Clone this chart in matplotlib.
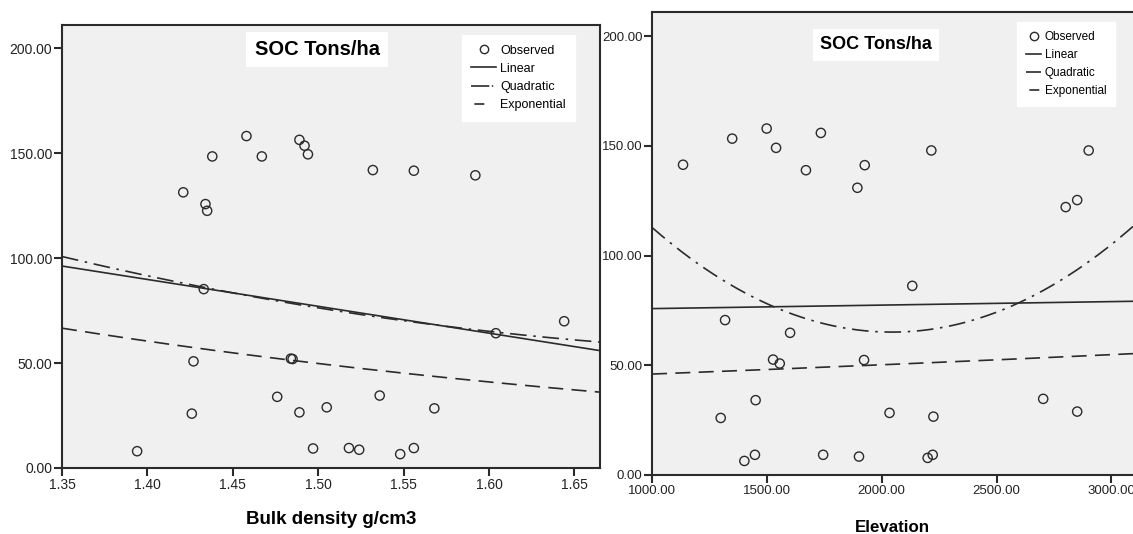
import numpy as np
import matplotlib.pyplot as plt
from matplotlib.lines import Line2D

plt.rcParams['font.family'] = ['Liberation Sans', 'DejaVu Sans']

# observed SOC stock (tons/ha) against bulk density (g/cm3)
bulk_density = [1.421, 1.434, 1.435, 1.438, 1.458, 1.467, 1.489, 1.492, 1.494, 1.532,
                1.556, 1.592, 1.433, 1.644, 1.604, 1.427, 1.484, 1.485, 1.426, 1.394,
                1.476, 1.489, 1.505, 1.497, 1.518, 1.524, 1.536, 1.548, 1.556, 1.568]
soc_bd = [131.3, 125.7, 122.5, 148.4, 158.1, 148.4, 156.3, 153.5, 149.4, 141.9,
          141.6, 139.4, 85.2, 69.9, 64.2, 50.8, 52.1, 51.9, 25.9, 8.0,
          33.9, 26.5, 28.9, 9.3, 9.5, 8.7, 34.5, 6.6, 9.5, 28.4]

# observed SOC stock (tons/ha) against elevation (m)
elevation = [1135, 1349, 1499, 1540, 1735, 1670, 1926, 1894, 2216, 2901,
             2801, 2851, 2133, 1318, 1601, 1527, 1556, 1923, 1451, 1299,
             2034, 2225, 2703, 2851, 1402, 1448, 1745, 1901, 2200, 2222]
soc_elev = [141.4, 153.3, 157.9, 149.1, 155.9, 138.9, 141.2, 130.9, 147.9, 147.9,
            122.1, 125.3, 86.2, 70.6, 64.8, 52.6, 50.8, 52.4, 34.1, 26.0,
            28.3, 26.6, 34.7, 28.9, 6.4, 9.2, 9.2, 8.4, 7.8, 9.2]

bd_ticks = [1.35, 1.40, 1.45, 1.50, 1.55, 1.60, 1.65]
elev_ticks = [1000, 1500, 2000, 2500, 3000]
y_ticks = [0, 50, 100, 150, 200]

BG = '#f0f0f0'
INK = '#2b2b2b'


def draw_panel(ax, x, y, xlim, xticks, xlabel, sizes, title_pos, legend_pos, hlen):
    """Scatter plus linear, quadratic and exponential fits, SPSS style"""
    tick_fs, legend_fs, title_fs, label_fs, label_pad = sizes
    x = np.array(x, dtype=float)
    y = np.array(y, dtype=float)
    ax.set_facecolor(BG)
    ax.scatter(x, y, s=44, facecolors='none', edgecolors=INK, linewidths=1.0, zorder=3)

    xs = np.linspace(xlim[0], xlim[1], 300)
    lin = np.polyfit(x, y, 1)
    quad = np.polyfit(x, y, 2)
    expo = np.polyfit(x, np.log(y), 1)
    ax.plot(xs, np.polyval(lin, xs), color=INK, lw=1.2)
    ax.plot(xs, np.polyval(quad, xs), color=INK, lw=1.2, dashes=(10, 4, 1.5, 4))
    ax.plot(xs, np.exp(np.polyval(expo, xs)), color=INK, lw=1.2, dashes=(9, 5))

    ax.set_xlim(xlim)
    ax.set_ylim(0, 211)
    ax.set_xticks(xticks)
    ax.set_xticklabels(['{:.2f}'.format(v) for v in xticks])
    ax.set_yticks(y_ticks)
    ax.set_yticklabels(['{:.2f}'.format(v) for v in y_ticks])
    ax.tick_params(direction='out', length=6, width=1.5, color=INK,
                   labelsize=tick_fs, labelcolor='#222222', pad=1)
    for sp in ax.spines.values():
        sp.set_color(INK)
        sp.set_linewidth(1.5)
    ax.set_xlabel(xlabel, fontsize=label_fs, fontweight='bold', labelpad=label_pad)

    ax.text(title_pos[0], title_pos[1], 'SOC Tons/ha', transform=ax.transAxes,
            ha='center', va='center', fontsize=title_fs, fontweight='bold',
            bbox=dict(boxstyle='square,pad=0.4', facecolor='white', edgecolor='none'))

    handles = [
        Line2D([], [], ls='none', marker='o', ms=6, mfc='none', mec=INK, mew=1.0),
        Line2D([], [], color=INK, lw=1.2),
        Line2D([], [], color=INK, lw=1.2, ls=(0, (11, 1.5, 0.8, 6))),
        Line2D([], [], color=INK, lw=1.2, ls=(24, (6, 20))),
    ]
    ax.legend(handles, ['Observed', 'Linear', 'Quadratic', 'Exponential'],
              loc='upper left', bbox_to_anchor=legend_pos, fontsize=legend_fs,
              frameon=True, fancybox=False, facecolor='white', edgecolor='white',
              framealpha=1, handlelength=hlen, handletextpad=0.3, labelspacing=0.5,
              borderpad=0.75, borderaxespad=0)


fig = plt.figure(figsize=(11.33, 5.34), dpi=100)
ax1 = fig.add_axes([0.0547, 0.1236, 0.4749, 0.8296])
ax2 = fig.add_axes([0.5755, 0.1105, 0.4245, 0.867])

draw_panel(ax1, bulk_density, soc_bd, (1.35, 1.665), bd_ticks, 'Bulk density g/cm3',
           (10, 9, 14.5, 13.5, 14), (0.474, 0.944), (0.743, 0.977), 2.0)
draw_panel(ax2, elevation, soc_elev, (1000, 3094), elev_ticks, 'Elevation',
           (9.5, 8.5, 13, 12.2, 17), (0.466, 0.929), (0.759, 0.978), 1.3)
ax2.spines['right'].set_visible(False)

fig.savefig('out.png', dpi=100)
